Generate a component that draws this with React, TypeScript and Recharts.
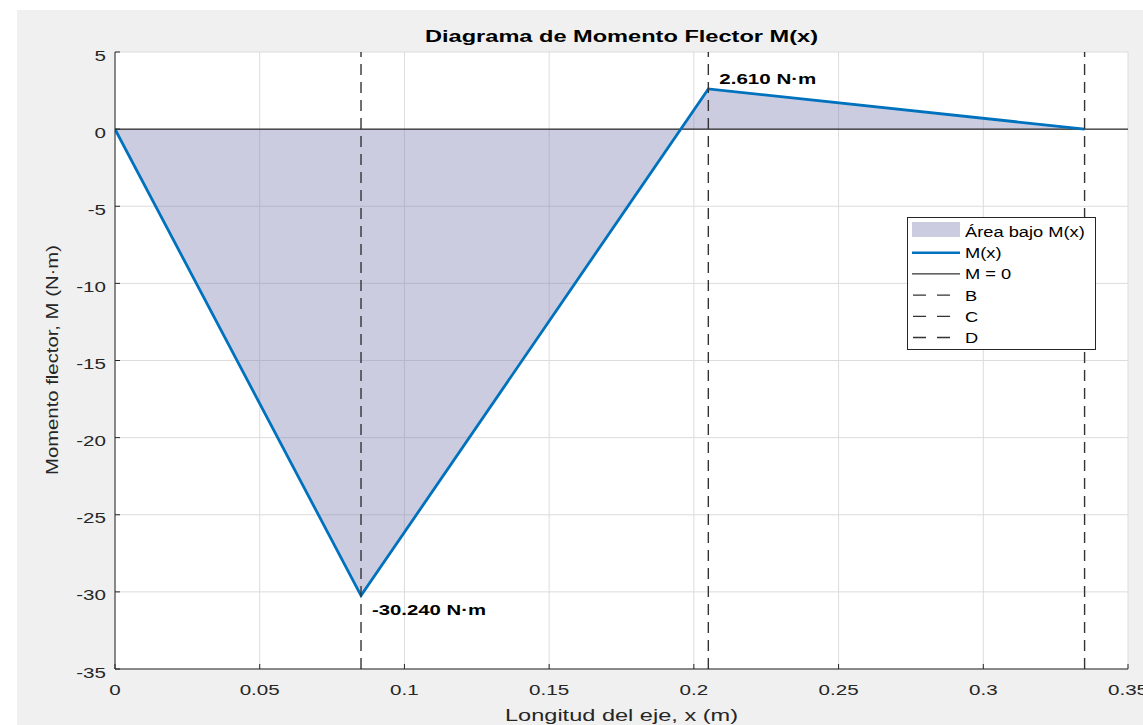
import {
    ComposedChart,
    Area,
    Line,
    XAxis,
    YAxis,
    CartesianGrid,
    ReferenceLine,
    ReferenceDot,
} from "recharts";

// posiciones a lo largo del eje (m) y momento flector (N·m)
const xPositions = [0, 0.085, 0.205, 0.335];
const moments = [0, -30.24, 2.61, 0];

// apoyos / puntos de carga marcados con línea discontinua
const supportNames = ["B", "C", "D"];
const supportPositions = [0.085, 0.205, 0.335];

const xTicks = [0, 0.05, 0.1, 0.15, 0.2, 0.25, 0.3, 0.35];
const yTicks = [-35, -30, -25, -20, -15, -10, -5, 0, 5];

const legendLabels = ["Área bajo M(x)", "M(x)", "M = 0", ...supportNames];

const chartTitle = "Diagrama de Momento Flector M(x)";
const xLabel = "Longitud del eje, x (m)";
const yLabel = "Momento flector, M (N·m)";

const data = xPositions.map((x, i) => ({ x, m: moments[i] }));

const FONT = "'Liberation Sans', Arial, Helvetica, sans-serif";
const TEXT = "#262626";
const BLUE = "#0072BD";

const minIdx = moments.indexOf(Math.min(...moments));
const maxIdx = moments.indexOf(Math.max(...moments));

const fmt = (v: number) => `${v.toFixed(3)} N·m`;

const XTick = (props: any) => {
    const { x, y, payload } = props;
    return (
        <text
            transform={`translate(${x},${y + 26}) scale(1.33,1)`}
            textAnchor="middle"
            fontFamily={FONT}
            fontSize={15.5}
            fill={TEXT}
        >
            {payload.value}
        </text>
    );
};

const YTick = (props: any) => {
    const { x, y, payload } = props;
    return (
        <text
            transform={`translate(${x - 9},${y + 8.5}) scale(1.33,1)`}
            textAnchor="end"
            fontFamily={FONT}
            fontSize={15.5}
            fill={TEXT}
        >
            {payload.value}
        </text>
    );
};

const peakLabel = (text: string, dx: number, dy: number, width: number) => (props: any) => {
    const { viewBox } = props;
    return (
        <text
            x={viewBox.x + dx}
            y={viewBox.y + dy}
            fontFamily={FONT}
            fontWeight="bold"
            fontSize={15}
            fill="#000"
            textLength={width}
            lengthAdjust="spacingAndGlyphs"
        >
            {text}
        </text>
    );
};

// leyenda y títulos van en un svg encima del gráfico
const Overlay = () => {
    const rowH = 21.2;
    return (
        <svg width={1143} height={725} style={{ position: "absolute", left: 0, top: 0, pointerEvents: "none" }}>
            <text
                x={621.5}
                y={42}
                textAnchor="middle"
                fontFamily={FONT}
                fontWeight="bold"
                fontSize={16}
                fill="#000"
                textLength={393}
                lengthAdjust="spacingAndGlyphs"
            >
                {chartTitle}
            </text>
            <text
                x={621.5}
                y={721}
                textAnchor="middle"
                fontFamily={FONT}
                fontSize={17}
                fill={TEXT}
                textLength={233}
                lengthAdjust="spacingAndGlyphs"
            >
                {xLabel}
            </text>
            <text
                transform="translate(58,360) rotate(-90)"
                textAnchor="middle"
                fontFamily={FONT}
                fontSize={17}
                fill={TEXT}
                textLength={230}
                lengthAdjust="spacingAndGlyphs"
            >
                {yLabel}
            </text>

            <rect x={907.5} y={217.5} width={188} height={132} fill="#fff" stroke={TEXT} strokeWidth={1} />
            {legendLabels.map((label, i) => {
                const base = 237 + i * rowH;
                const cy = base - 5.5;
                let icon;
                if (i === 0) {
                    icon = <rect x={912} y={222} width={48} height={15} fill="#8080b3" fillOpacity={0.4} />;
                } else if (i === 1) {
                    icon = <line x1={912} x2={960} y1={cy} y2={cy} stroke={BLUE} strokeWidth={2.5} />;
                } else if (i === 2) {
                    icon = <line x1={912} x2={960} y1={cy} y2={cy} stroke="#000" strokeWidth={1} />;
                } else {
                    icon = (
                        <line x1={913} x2={960} y1={cy} y2={cy} stroke="#333" strokeWidth={1.3} strokeDasharray="13 11" />
                    );
                }
                return (
                    <g key={label}>
                        {icon}
                        <text
                            transform={`translate(965,${base}) scale(1.26,1)`}
                            fontFamily={FONT}
                            fontSize={14.5}
                            fill="#000"
                        >
                            {label}
                        </text>
                    </g>
                );
            })}
        </svg>
    );
};

export default function App() {
    return (
        <div style={{ position: "fixed", left: 0, top: 0, width: 1143, height: 725, background: "#fff", overflow: "hidden" }}>
            <div style={{ position: "absolute", left: 17, top: 10, width: 1126, height: 715, background: "#f0f0f0" }} />
            <div style={{ position: "absolute", left: 0, top: 0 }}>
                <ComposedChart
                    width={1143}
                    height={725}
                    data={data}
                    margin={{ top: 52, right: 15, left: 55, bottom: 16 }}
                >
                    <CartesianGrid stroke="#dcdcdc" strokeWidth={1} fill="#fff" fillOpacity={1} />
                    <XAxis
                        dataKey="x"
                        type="number"
                        domain={[0, 0.35]}
                        ticks={xTicks}
                        height={40}
                        tickSize={-5}
                        tickMargin={5}
                        tick={<XTick />}
                        axisLine={{ stroke: TEXT }}
                        tickLine={{ stroke: TEXT }}
                        allowDataOverflow
                    />
                    <XAxis
                        xAxisId="top"
                        orientation="top"
                        type="number"
                        domain={[0, 0.35]}
                        ticks={xTicks}
                        height={0}
                        tickSize={-5}
                        tick={false}
                        axisLine={{ stroke: TEXT }}
                        tickLine={{ stroke: TEXT }}
                    />
                    <YAxis
                        type="number"
                        domain={[-35, 5]}
                        ticks={yTicks}
                        width={60}
                        tickSize={-5}
                        tickMargin={5}
                        tick={<YTick />}
                        axisLine={{ stroke: TEXT }}
                        tickLine={{ stroke: TEXT }}
                        allowDataOverflow
                    />
                    <YAxis
                        yAxisId="right"
                        orientation="right"
                        type="number"
                        domain={[-35, 5]}
                        ticks={yTicks}
                        width={0}
                        tickSize={-5}
                        tick={false}
                        axisLine={{ stroke: TEXT }}
                        tickLine={{ stroke: TEXT }}
                    />
                    <Area
                        type="linear"
                        dataKey="m"
                        baseValue={0}
                        stroke="none"
                        fill="#8080b3"
                        fillOpacity={0.4}
                        isAnimationActive={false}
                    />
                    <ReferenceLine y={0} stroke="#000" strokeWidth={1} />
                    <Line
                        type="linear"
                        dataKey="m"
                        stroke={BLUE}
                        strokeWidth={2.8}
                        dot={false}
                        activeDot={false}
                        isAnimationActive={false}
                    />
                    {supportPositions.map((sx, i) => (
                        <ReferenceLine
                            key={supportNames[i]}
                            x={sx}
                            stroke="#333"
                            strokeWidth={1.4}
                            strokeDasharray="11 7"
                        />
                    ))}
                    <ReferenceDot
                        x={xPositions[minIdx]}
                        y={moments[minIdx]}
                        r={0}
                        stroke="none"
                        fill="none"
                        label={peakLabel(fmt(moments[minIdx]), 11, 19, 114)}
                    />
                    <ReferenceDot
                        x={xPositions[maxIdx]}
                        y={moments[maxIdx]}
                        r={0}
                        stroke="none"
                        fill="none"
                        label={peakLabel(fmt(moments[maxIdx]), 11, -5, 97)}
                    />
                </ComposedChart>
            </div>
            <Overlay />
        </div>
    );
}
